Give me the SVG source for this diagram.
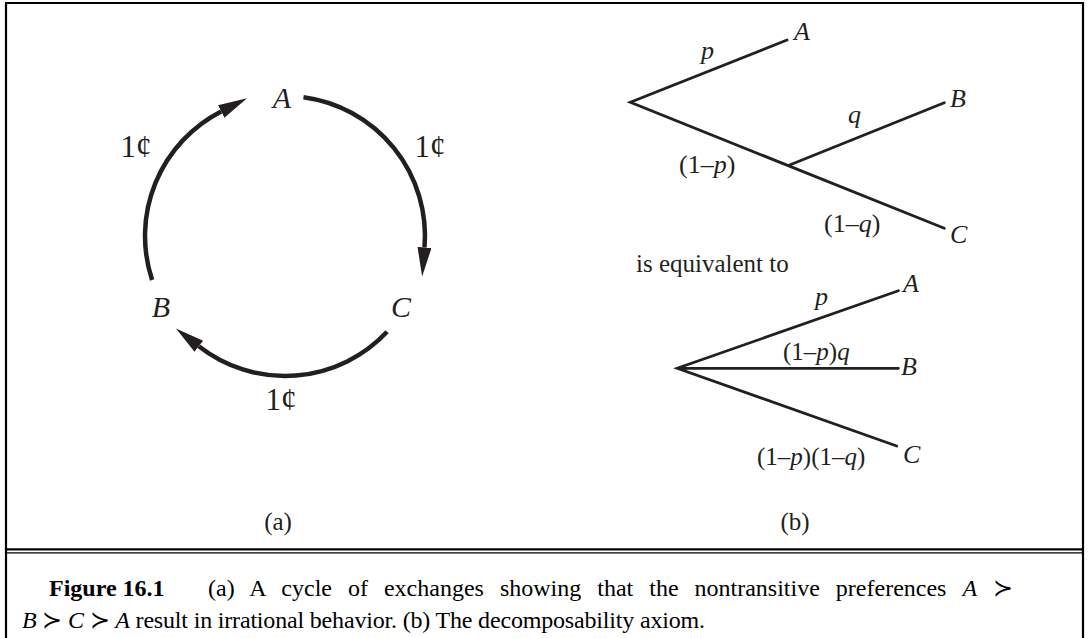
<svg xmlns="http://www.w3.org/2000/svg" width="1089" height="638" viewBox="0 0 1089 638">
<style>
.t{font-family:"Liberation Serif","DejaVu Serif",serif;fill:#231f20}
.i{font-style:italic}
.arc{fill:none;stroke:#231f20;stroke-width:4.5}
.br{fill:none;stroke:#231f20;stroke-width:2.8;stroke-linecap:round}
.frame{fill:none;stroke:#000;stroke-width:2.2}
.cap{font-family:"Liberation Serif","DejaVu Serif",serif;fill:#000;font-size:24px}
</style>
<defs>
<marker id="ah" markerUnits="userSpaceOnUse" markerWidth="40" markerHeight="20" refX="0" refY="7" orient="auto" viewBox="0 0 40 20">
<path d="M0,0 L29,7 L0,14 z" fill="#231f20"/>
</marker>
</defs>
<rect width="1089" height="638" fill="#fff"/>
<g id="frame">
<path class="frame" d="M6,640 V3 H1083 V640"/>
<line x1="6" y1="549.3" x2="1083" y2="549.3" stroke="#000" stroke-width="2.2"/>
<line x1="6" y1="552.8" x2="1083" y2="552.8" stroke="#000" stroke-width="1.3"/>
</g>
<g id="connectors">
<path class="arc" d="M303.5,97.2 A140,140 0 0 1 424.5,247.5" marker-end="url(#ah)"/>
<path class="arc" d="M387.1,331.8 A140,140 0 0 1 198.8,346.3" marker-end="url(#ah)"/>
<path class="arc" d="M152.1,280 A140,140 0 0 1 221.2,111.4" marker-end="url(#ah)"/>
<path class="br" d="M787,40 L630.4,102.3 L944.3,228.3 M789.6,165 L944.3,102.7"/>
<path class="br" d="M898.4,290.7 L677.3,368.3 L896.7,446 M677.3,368.3 L898.4,368.3"/>
</g>
<g id="nodeA"><text class="t i" x="282" y="108" font-size="30" text-anchor="middle">A</text></g>
<g id="nodeB"><text class="t i" x="161" y="317" font-size="30" text-anchor="middle">B</text></g>
<g id="nodeC"><text class="t i" x="401" y="317" font-size="30" text-anchor="middle">C</text></g>
<g id="labels-a">
<text class="t" x="136" y="157" font-size="31" text-anchor="middle">1¢</text>
<text class="t" x="430" y="157" font-size="31" text-anchor="middle">1¢</text>
<text class="t" x="281" y="410" font-size="31" text-anchor="middle">1¢</text>
<text class="t" x="278" y="530" font-size="25" text-anchor="middle">(a)</text>
</g>
<g id="tree1">
<text class="t i" x="794" y="40" font-size="26">A</text>
<text class="t i" x="950" y="107" font-size="26">B</text>
<text class="t i" x="950" y="243" font-size="26">C</text>
<text class="t i" x="701" y="59" font-size="26">p</text>
<text class="t i" x="848" y="123" font-size="26">q</text>
<text class="t" x="679" y="173" font-size="26">(1–<tspan class="i">p</tspan>)</text>
<text class="t" x="824" y="232" font-size="26">(1–<tspan class="i">q</tspan>)</text>
</g>
<text class="t" x="636" y="272" font-size="25">is equivalent to</text>
<g id="tree2">
<text class="t i" x="903" y="292" font-size="26">A</text>
<text class="t i" x="901" y="375" font-size="26">B</text>
<text class="t i" x="903" y="463" font-size="26">C</text>
<text class="t i" x="815" y="305" font-size="26">p</text>
<text class="t" x="783" y="360" font-size="25">(1–<tspan class="i">p</tspan>)<tspan class="i">q</tspan></text>
<text class="t" x="757" y="465" font-size="25">(1–<tspan class="i">p</tspan>)(1–<tspan class="i">q</tspan>)</text>
<text class="t" x="795" y="530" font-size="25" text-anchor="middle">(b)</text>
</g>
<g id="caption">
<text class="cap" x="49" y="596" font-weight="bold">Figure 16.1</text>
<text class="cap" x="208" y="596" word-spacing="10">(a) A cycle of exchanges showing that the nontransitive preferences <tspan class="i">A</tspan> ≻</text>
<text class="cap" x="22" y="628" textLength="683"><tspan class="i">B</tspan> ≻ <tspan class="i">C</tspan> ≻ <tspan class="i">A</tspan> result in irrational behavior. (b) The decomposability axiom.</text>
</g>
</svg>
